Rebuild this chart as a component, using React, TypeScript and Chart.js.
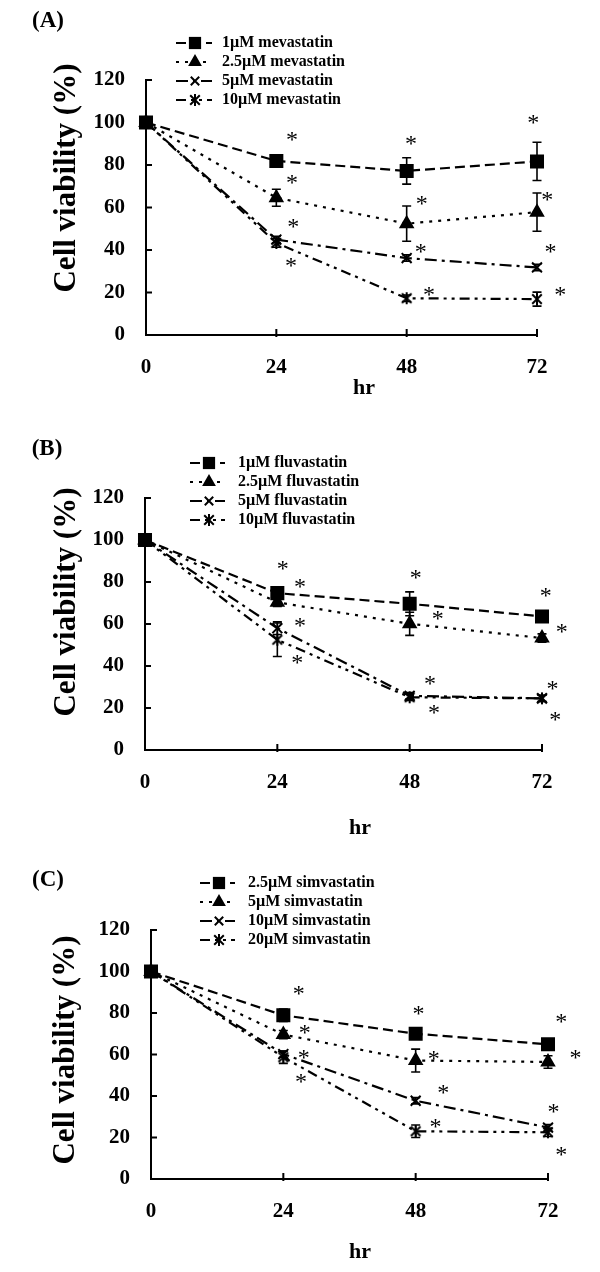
import React, { useEffect, useRef } from 'react';
import { Chart, registerables } from 'chart.js';

Chart.register(...registerables);

const FONT = "'Liberation Serif', 'Times New Roman', Times, serif";

// ---------- shared axis data ----------
const HOURS = [0, 24, 48, 72];
const X_MAX = 72;
const X_STEP = 24;
const Y_MAX = 120;
const Y_STEP = 20;
const Y_TITLE = 'Cell viability (%)';
const X_TITLE = 'hr';

// ---------- Panel A: mevastatin ----------
const A_LETTER = '(A)';
const A_LABELS = ['1µM mevastatin', '2.5µM mevastatin', '5µM mevastatin', '10µM mevastatin'];
const A_S1 = [100, 81.9, 77.2, 81.7];
const A_S2 = [100, 64.6, 52.4, 57.8];
const A_S3 = [100, 44.9, 36.2, 31.8];
const A_S4 = [100, 43.3, 17.3, 16.9];
const A_E1 = [0, 1.5, 6.2, 9];
const A_E2 = [0, 4, 8.3, 9];
const A_E3 = [0, 1.5, 1.5, 1.5];
const A_E4 = [0, 2, 1.5, 3.3];
const A_STAR_X = [26.9, 26.9, 27.1, 26.7, 48.8, 50.8, 50.6, 52.1, 71.3, 73.9, 74.5, 76.3];
const A_STAR_Y = [93.4, 73.2, 52.4, 33.9, 91.7, 63.5, 40.9, 20.5, 101.6, 65.4, 40.9, 20.5];

// ---------- Panel B: fluvastatin ----------
const B_LETTER = '(B)';
const B_LABELS = ['1µM fluvastatin', '2.5µM fluvastatin', '5µM fluvastatin', '10µM fluvastatin'];
const B_S1 = [100, 74.7, 69.6, 63.6];
const B_S2 = [100, 70.3, 60.1, 53.3];
const B_S3 = [100, 58.0, 25.8, 24.6];
const B_S4 = [100, 52.5, 25.1, 24.6];
const B_E1 = [0, 2, 5.7, 2];
const B_E2 = [0, 2, 5.5, 2];
const B_E3 = [0, 3, 1.5, 1.5];
const B_E4 = [0, 8, 1.5, 1.5];
const B_STAR_X = [25.0, 28.1, 28.1, 27.6, 49.1, 53.1, 51.7, 52.4, 72.7, 75.6, 73.9, 74.4];
const B_STAR_Y = [87.9, 79.2, 60.7, 42.9, 83.8, 64.1, 32.9, 19.1, 75.2, 57.7, 30.7, 15.9];

// ---------- Panel C: simvastatin ----------
const C_LETTER = '(C)';
const C_LABELS = ['2.5µM simvastatin', '5µM simvastatin', '10µM simvastatin', '20µM simvastatin'];
const C_S1 = [100, 78.9, 70.0, 64.9];
const C_S2 = [100, 69.6, 57.1, 56.4];
const C_S3 = [100, 60.2, 37.7, 24.8];
const C_S4 = [100, 58.7, 23.0, 22.5];
const C_E1 = [0, 3, 1.5, 2];
const C_E2 = [0, 2, 5.5, 3];
const C_E3 = [0, 1.5, 1.5, 1.5];
const C_E4 = [0, 3, 3, 2];
const C_STAR_X = [26.8, 27.9, 27.7, 27.2, 48.5, 51.3, 53.0, 51.6, 74.4, 77.0, 73.0, 74.4];
const C_STAR_Y = [91.0, 71.9, 60.2, 48.6, 81.2, 59.5, 43.2, 26.9, 77.3, 60.2, 33.9, 13.2];

// ---------- styles ----------
const SERIES_STYLES = [
  { kind: 'rect', radius: 8.5, dash: [10, 5] },
  { kind: 'triangle', radius: 7, dash: [3, 6] },
  { kind: 'crossRot', radius: 7, dash: [12, 5, 3, 5] },
  { kind: 'asterisk', radius: 6, dash: [10, 5, 3, 5, 3, 5] },
];

// ---------- layouts (canvas pixel positions) ----------
const LAYOUT_A = {
  height: 420,
  area: { left: 146, right: 537, top: 80, bottom: 335 },
  letter: { x: 48, y: 21 },
  yTitle: { x: 67, y: 178 },
  xTitle: { x: 364, y: 388 },
  legend: { x0: 176, x1: 212, mx: 195, tx: 222, y: 43, gap: 19 },
};
const LAYOUT_B = {
  height: 420,
  area: { left: 145, right: 542, top: 78, bottom: 330 },
  letter: { x: 47, y: 29 },
  yTitle: { x: 67, y: 182 },
  xTitle: { x: 360, y: 408 },
  legend: { x0: 190, x1: 225, mx: 209, tx: 238, y: 43, gap: 19 },
};
const LAYOUT_C = {
  height: 432,
  area: { left: 151, right: 548, top: 90, bottom: 339 },
  letter: { x: 48, y: 40 },
  yTitle: { x: 66, y: 210 },
  xTitle: { x: 360, y: 412 },
  legend: { x0: 200, x1: 235, mx: 219, tx: 248, y: 43, gap: 19 },
};

const PANELS = [
  {
    letter: A_LETTER, labels: A_LABELS,
    series: [A_S1, A_S2, A_S3, A_S4], errors: [A_E1, A_E2, A_E3, A_E4],
    starX: A_STAR_X, starY: A_STAR_Y, layout: LAYOUT_A,
  },
  {
    letter: B_LETTER, labels: B_LABELS,
    series: [B_S1, B_S2, B_S3, B_S4], errors: [B_E1, B_E2, B_E3, B_E4],
    starX: B_STAR_X, starY: B_STAR_Y, layout: LAYOUT_B,
  },
  {
    letter: C_LETTER, labels: C_LABELS,
    series: [C_S1, C_S2, C_S3, C_S4], errors: [C_E1, C_E2, C_E3, C_E4],
    starX: C_STAR_X, starY: C_STAR_Y, layout: LAYOUT_C,
  },
];

function makeAsteriskCanvas(r: number, lw: number) {
  const size = Math.ceil(2 * r + lw + 2);
  const c = document.createElement('canvas');
  c.width = size;
  c.height = size;
  const g = c.getContext('2d')!;
  const m = size / 2;
  g.strokeStyle = '#000';
  g.lineWidth = lw;
  g.beginPath();
  g.moveTo(m, m - r);
  g.lineTo(m, m + r);
  const d = r * 0.8;
  g.moveTo(m - d, m - d);
  g.lineTo(m + d, m + d);
  g.moveTo(m - d, m + d);
  g.lineTo(m + d, m - d);
  g.stroke();
  return c;
}

function drawMarker(ctx: CanvasRenderingContext2D, kind: string, x: number, y: number, r: number, star: HTMLCanvasElement) {
  ctx.save();
  ctx.fillStyle = '#000';
  ctx.strokeStyle = '#000';
  ctx.lineWidth = 2;
  ctx.setLineDash([]);
  if (kind === 'rect') {
    const s = r * Math.SQRT1_2;
    ctx.fillRect(x - s, y - s, 2 * s, 2 * s);
    ctx.strokeRect(x - s, y - s, 2 * s, 2 * s);
  } else if (kind === 'triangle') {
    ctx.beginPath();
    ctx.moveTo(x, y - r);
    ctx.lineTo(x + 0.866 * r, y + 0.5 * r);
    ctx.lineTo(x - 0.866 * r, y + 0.5 * r);
    ctx.closePath();
    ctx.fill();
    ctx.stroke();
  } else if (kind === 'crossRot') {
    const d = r * Math.SQRT1_2;
    ctx.beginPath();
    ctx.moveTo(x - d, y - d);
    ctx.lineTo(x + d, y + d);
    ctx.moveTo(x - d, y + d);
    ctx.lineTo(x + d, y - d);
    ctx.stroke();
  } else {
    ctx.drawImage(star, x - star.width / 2, y - star.height / 2);
  }
  ctx.restore();
}

function Panel({ p }: { p: any }) {
  const ref = useRef<HTMLCanvasElement>(null);
  useEffect(() => {
    const canvas = ref.current!;
    const L = p.layout;
    const star = makeAsteriskCanvas(SERIES_STYLES[3].radius, 2);
    const tickFont = { family: FONT, size: 21, weight: 'bold' as const };

    const datasets = p.series.map((vals: number[], i: number) => {
      const st = SERIES_STYLES[i];
      return {
        label: p.labels[i],
        data: HOURS.map((h, j) => ({ x: h, y: vals[j] })),
        errors: p.errors[i],
        borderColor: '#000',
        backgroundColor: '#000',
        borderWidth: 2.2,
        borderDash: st.dash,
        pointStyle: st.kind === 'asterisk' ? star : st.kind,
        pointRadius: st.radius,
        pointBorderWidth: 2,
        pointBorderColor: '#000',
        pointBackgroundColor: '#000',
        fill: false,
        tension: 0,
        clip: false,
      };
    });

    const errorBars = {
      id: 'errorBars',
      afterDatasetsDraw(chart: any) {
        const { ctx } = chart;
        const xs = chart.scales.x;
        const ys = chart.scales.y;
        ctx.save();
        ctx.strokeStyle = '#000';
        ctx.lineWidth = 1.6;
        ctx.setLineDash([]);
        chart.data.datasets.forEach((ds: any) => {
          ds.errors.forEach((e: number, j: number) => {
            if (!e) return;
            const v = ds.data[j].y;
            const x = xs.getPixelForValue(ds.data[j].x);
            const yt = ys.getPixelForValue(v + e);
            const yb = ys.getPixelForValue(v - e);
            ctx.beginPath();
            ctx.moveTo(x, yt);
            ctx.lineTo(x, yb);
            ctx.moveTo(x - 4.5, yt);
            ctx.lineTo(x + 4.5, yt);
            ctx.moveTo(x - 4.5, yb);
            ctx.lineTo(x + 4.5, yb);
            ctx.stroke();
          });
        });
        ctx.restore();
      },
    };

    const innerTicks = {
      id: 'innerTicks',
      beforeDatasetsDraw(chart: any) {
        const { ctx, chartArea } = chart;
        const xs = chart.scales.x;
        const ys = chart.scales.y;
        ctx.save();
        ctx.strokeStyle = '#000';
        ctx.lineWidth = 2;
        ctx.beginPath();
        ys.ticks.forEach((t: any) => {
          if (t.value === 0) return;
          const y = ys.getPixelForValue(t.value);
          ctx.moveTo(chartArea.left, y);
          ctx.lineTo(chartArea.left + 6, y);
        });
        xs.ticks.forEach((t: any) => {
          if (t.value === 0) return;
          const x = xs.getPixelForValue(t.value);
          ctx.moveTo(x, chartArea.bottom + 2);
          ctx.lineTo(x, chartArea.bottom - 6);
        });
        ctx.stroke();
        ctx.restore();
      },
    };

    const decorations = {
      id: 'decorations',
      afterDraw(chart: any) {
        const { ctx } = chart;
        const xs = chart.scales.x;
        const ys = chart.scales.y;
        ctx.save();
        ctx.fillStyle = '#000';

        // significance asterisks
        ctx.font = `24px ${FONT}`;
        ctx.textAlign = 'center';
        ctx.textBaseline = 'alphabetic';
        const m = ctx.measureText('*');
        const mid = (m.actualBoundingBoxAscent - m.actualBoundingBoxDescent) / 2;
        p.starX.forEach((sx: number, k: number) => {
          const px = xs.getPixelForValue(sx);
          const py = ys.getPixelForValue(p.starY[k]);
          ctx.fillText('*', px, py + mid);
        });

        // panel letter
        ctx.font = `bold 23px ${FONT}`;
        ctx.textBaseline = 'middle';
        ctx.fillText(p.letter, L.letter.x, L.letter.y);

        // x title
        ctx.font = `bold 22px ${FONT}`;
        ctx.fillText(X_TITLE, L.xTitle.x, L.xTitle.y);

        // y title
        ctx.save();
        ctx.translate(L.yTitle.x, L.yTitle.y);
        ctx.rotate(-Math.PI / 2);
        ctx.font = `bold 31px ${FONT}`;
        ctx.fillText(Y_TITLE, 0, 0);
        ctx.restore();

        // legend
        const G = L.legend;
        p.labels.forEach((lab: string, i: number) => {
          const st = SERIES_STYLES[i];
          const y = G.y + i * G.gap;
          ctx.save();
          ctx.strokeStyle = '#000';
          ctx.lineWidth = 2.2;
          ctx.setLineDash(st.dash);
          ctx.beginPath();
          ctx.moveTo(G.x0, y);
          ctx.lineTo(G.x1, y);
          ctx.stroke();
          ctx.restore();
          drawMarker(ctx, st.kind, G.mx, y, st.radius * 0.85, star);
          ctx.font = `bold 16px ${FONT}`;
          ctx.textAlign = 'left';
          ctx.textBaseline = 'middle';
          ctx.fillText(lab, G.tx, y);
        });
        ctx.restore();
      },
    };

    const chart = new Chart(canvas, {
      type: 'line',
      data: { datasets },
      options: {
        responsive: false,
        animation: false,
        events: [],
        layout: {
          padding: { left: 0, top: L.area.top, right: 600 - L.area.right, bottom: 0 },
        },
        plugins: {
          legend: { display: false },
          tooltip: { enabled: false },
          title: { display: false },
        },
        scales: {
          x: {
            type: 'linear',
            min: 0,
            max: X_MAX,
            ticks: { stepSize: X_STEP, padding: 20, color: '#000', font: tickFont },
            grid: { display: false, drawTicks: false },
            border: { display: true, color: '#000', width: 2 },
            afterFit: (s: any) => { s.height = L.height - L.area.bottom; },
          },
          y: {
            type: 'linear',
            min: 0,
            max: Y_MAX,
            ticks: { stepSize: Y_STEP, padding: 21, color: '#000', font: tickFont },
            grid: { display: false, drawTicks: false },
            border: { display: true, color: '#000', width: 2 },
            afterFit: (s: any) => { s.width = L.area.left; },
          },
        },
      } as any,
      plugins: [innerTicks, errorBars, decorations],
    });
    return () => chart.destroy();
  }, [p]);
  return <canvas ref={ref} width={600} height={p.layout.height} style={{ display: 'block' }} />;
}

export default function App() {
  useEffect(() => {
    document.body.style.margin = '0';
    document.body.style.background = '#fff';
  }, []);
  return (
    <div style={{ width: 600, background: '#fff' }}>
      {PANELS.map((p, i) => (
        <Panel key={i} p={p} />
      ))}
    </div>
  );
}
